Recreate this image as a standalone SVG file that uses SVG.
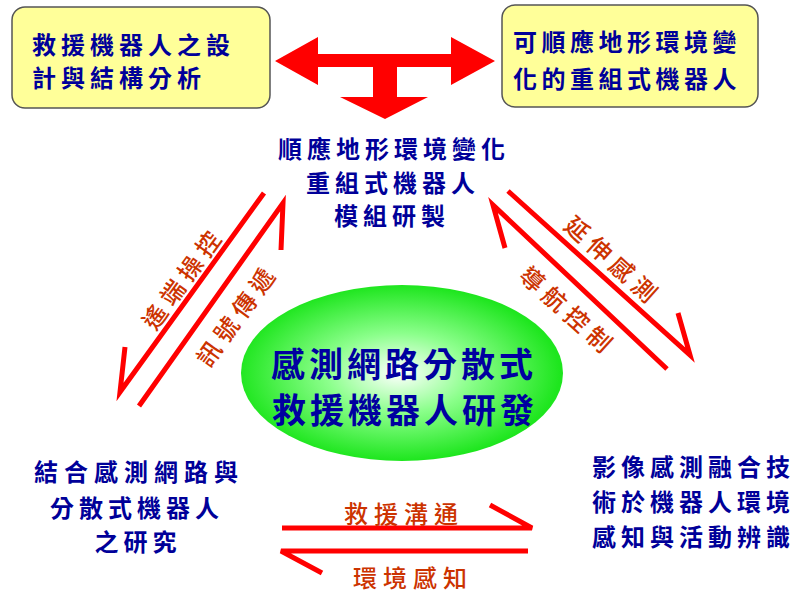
<svg xmlns="http://www.w3.org/2000/svg" width="799" height="593" viewBox="0 0 799 593">
<style>
.box{fill:#FFFF99;stroke:#555;stroke-width:1.5}
.bt{font-family:"Noto Sans CJK TC","Noto Sans CJK SC",sans-serif;font-size:24px;font-weight:700;fill:#000099;dominant-baseline:central}
.ct{font-family:"Noto Sans CJK TC","Noto Sans CJK SC",sans-serif;font-size:34px;font-weight:700;fill:#0000A0;dominant-baseline:central;letter-spacing:4px}
.lb{font-family:"Noto Sans CJK TC","Noto Sans CJK SC",sans-serif;font-size:24px;font-weight:500;fill:#CC3300;dominant-baseline:central;letter-spacing:6px;text-anchor:middle}
.ar{fill:none;stroke:#FF0000;stroke-width:5;stroke-linejoin:miter}
</style>
<defs>
<radialGradient id="g" cx="0.49" cy="0.5" r="0.5">
<stop offset="0" stop-color="#ffffff"/>
<stop offset="0.45" stop-color="#8cff8c"/>
<stop offset="1" stop-color="#1ee61e"/>
</radialGradient>
</defs>
<rect width="799" height="593" fill="#ffffff"/>
<g id="node-top-left">
<rect class="box" x="12" y="7" width="258" height="101" rx="13"/>
<text class="bt" x="32" y="43" letter-spacing="5">救援機器人之設</text>
<text class="bt" x="32" y="76" letter-spacing="5">計與結構分析</text>
</g>
<g id="node-top-right">
<rect class="box" x="502" y="5" width="256" height="102" rx="13"/>
<text class="bt" x="513" y="40" letter-spacing="4.5">可順應地形環境變</text>
<text class="bt" x="513" y="77" letter-spacing="4.5">化的重組式機器人</text>
</g>
<g id="node-module">
<text class="bt" x="394" y="147" letter-spacing="5" text-anchor="middle">順應地形環境變化</text>
<text class="bt" x="393" y="181" letter-spacing="5" text-anchor="middle">重組式機器人</text>
<text class="bt" x="392" y="214" letter-spacing="5" text-anchor="middle">模組研製</text>
</g>
<g id="node-center">
<ellipse cx="402" cy="373" rx="161" ry="88" fill="url(#g)"/>
<text class="ct" x="404" y="362" text-anchor="middle">感測網路分散式</text>
<text class="ct" x="405" y="408" text-anchor="middle">救援機器人研發</text>
</g>
<g id="node-bottom-left">
<text class="bt" x="139" y="470" letter-spacing="6" text-anchor="middle">結合感測網路與</text>
<text class="bt" x="137" y="506" letter-spacing="5" text-anchor="middle">分散式機器人</text>
<text class="bt" x="138" y="540" letter-spacing="5" text-anchor="middle">之研究</text>
</g>
<g id="node-bottom-right">
<text class="bt" x="592" y="465" letter-spacing="5">影像感測融合技</text>
<text class="bt" x="592" y="500" letter-spacing="5">術於機器人環境</text>
<text class="bt" x="592" y="535" letter-spacing="5">感知與活動辨識</text>
</g>
<g id="connectors">
<polygon fill="#FF0000" points="275,61 318,37 318,54 451,54 451,37 495,61 451,85 451,67 397,67 397,97 428,97 385,119 340,97 373,97 373,67 318,67 318,85"/>
<polyline class="ar" points="264,193 120,392 125,347"/>
<polyline class="ar" points="139,406 283,203 281,250"/>
<polyline class="ar" points="508,191 690,355 678,313"/>
<polyline class="ar" points="667,369 493,205 505,248"/>
<polyline class="ar" points="282,528 532,528 490,505"/>
<polyline class="ar" points="528,551 281,551 322,573"/>
<text class="lb" transform="translate(182,277) rotate(-54)">遙端操控</text>
<text class="lb" transform="translate(236,314) rotate(-54)">訊號傳遞</text>
<text class="lb" transform="translate(614,260) rotate(42)">延伸感測</text>
<text class="lb" transform="translate(569,310) rotate(42)">導航控制</text>
<text class="lb" x="404" y="512">救援溝通</text>
<text class="lb" x="413" y="576">環境感知</text>
</g>
</svg>
